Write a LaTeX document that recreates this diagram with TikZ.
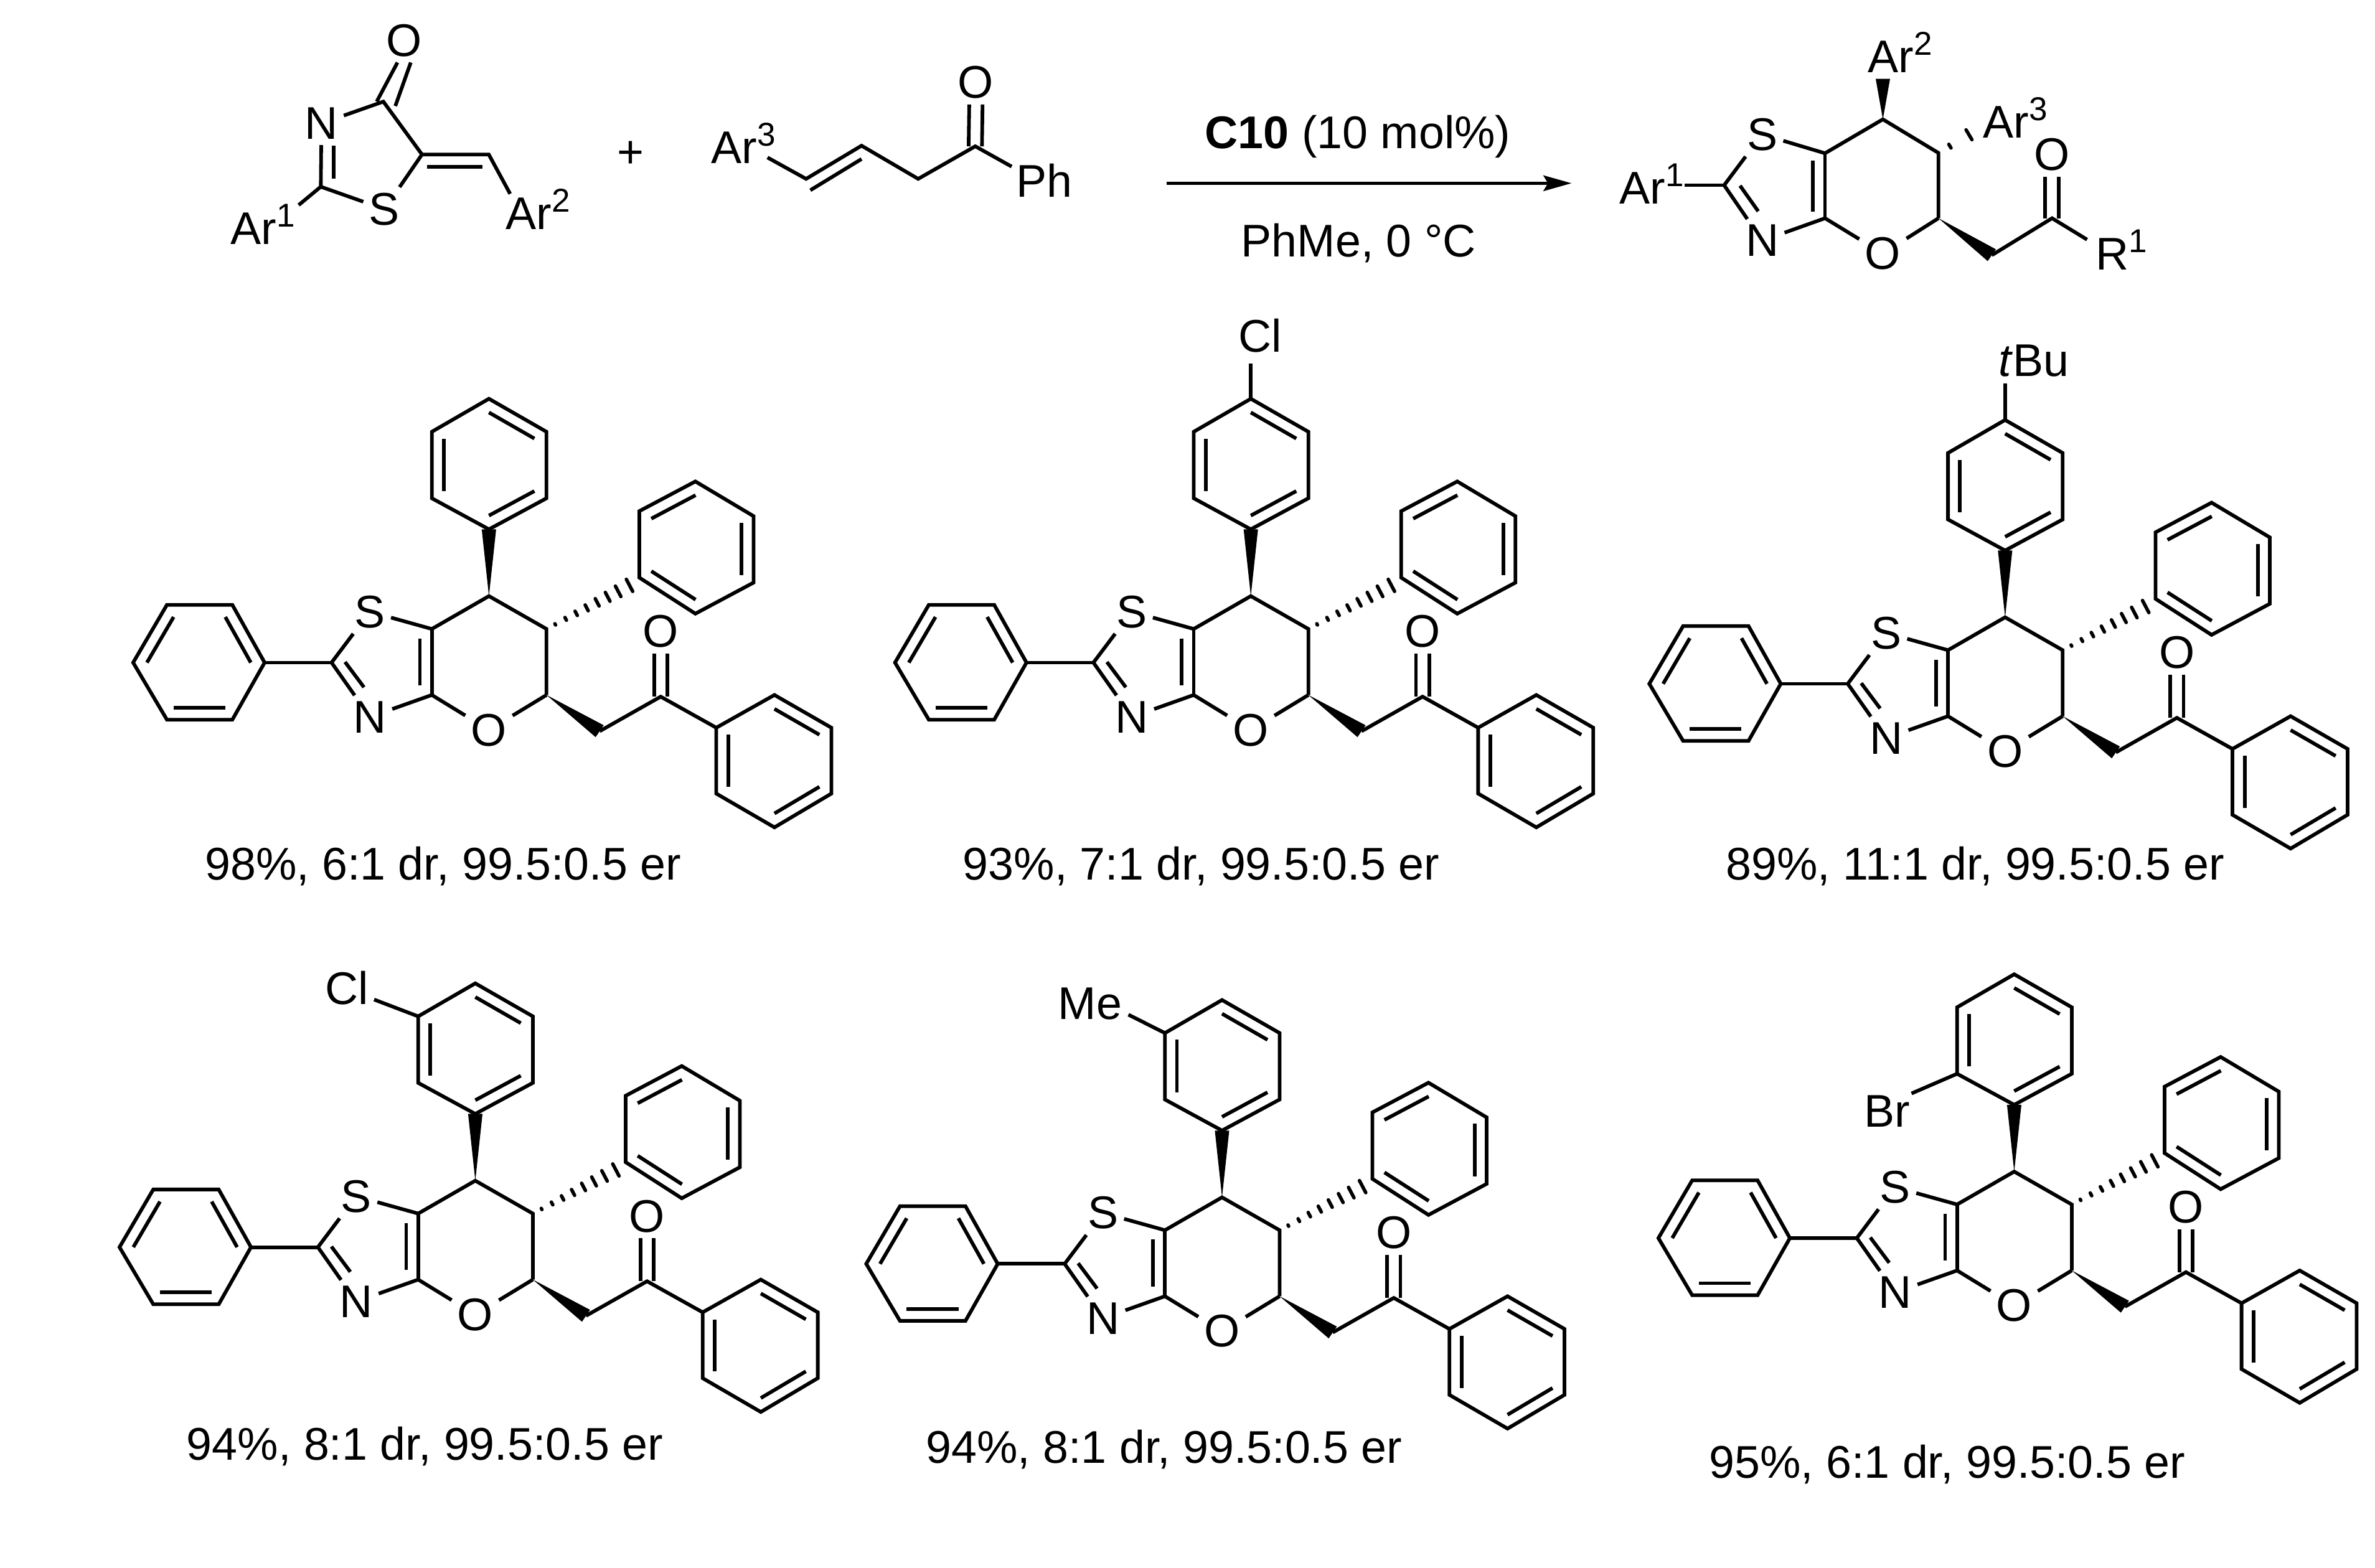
\documentclass[tikz,border=0pt]{standalone}
\usepackage{fontspec}
\setmainfont{Liberation Sans}
\usetikzlibrary{calc,arrows.meta}
\newcommand{\Sup}[1]{\raisebox{.38em}{\fontsize{6.2}{6.2}\selectfont #1}}
\tikzset{
  bond/.style={line width=0.68pt,line join=miter,line cap=butt},
  hashline/.style={line width=0.65pt,line cap=round},
  atom/.style={inner sep=0.9pt,font=\fontsize{8.6}{10}\selectfont},
  lab/.style={inner sep=0pt,anchor=base west,font=\fontsize{8.6}{10}\selectfont},
  captext/.style={inner sep=0pt,anchor=base,font=\fontsize{8.6}{10}\selectfont}
}
% benzene ring: six corners, inner lines on edges 1-2, 3-4, 5-6
\newcommand{\benzene}[6]{%
  \draw[bond] (#1)--(#2)--(#3)--(#4)--(#5)--(#6)--cycle;
  \draw[bond] ($($(#1)!.5!(#4)$)!.79!(#1)$) -- ($($(#1)!.5!(#4)$)!.79!(#2)$);
  \draw[bond] ($($(#1)!.5!(#4)$)!.79!(#3)$) -- ($($(#1)!.5!(#4)$)!.79!(#4)$);
  \draw[bond] ($($(#1)!.5!(#4)$)!.79!(#5)$) -- ($($(#1)!.5!(#4)$)!.79!(#6)$);
}
\newcommand{\wedgebond}[2]{%
  \fill (#1) -- ($(#2)!1.35pt!90:(#1)$) -- ($(#2)!1.35pt!-90:(#1)$) -- cycle;
}
% #1 from, #2 to, #3 list of positions along the bond
\newcommand{\hashbond}[3]{%
  \foreach \t in {#3}{%
    \pgfmathsetmacro{\w}{1.35*\t}
    \coordinate (hp) at ($(#1)!\t!(#2)$);
    \draw[hashline] ($(hp)!\w pt!90:(#2)$) -- ($(hp)!\w pt!-90:(#2)$);
  }%
}
% #1 prefix, #2 dx, #3 dy, #4 extra (substituent on the upper ring)
\newcommand{\productmol}[4]{%
\begin{scope}[shift={(#2,#3)}]
  \coordinate (#1C7) at (322.8,393.6);
  \coordinate (#1C6) at (360.8,415.3);
  \coordinate (#1C5) at (360.8,458.9);
  \coordinate (#1Ca) at (285.1,458.9);
  \coordinate (#1Cb) at (285.1,415.3);
  \coordinate (#1C2) at (218.9,437.5);
  \coordinate (#1CH) at (395.9,482.8);
  \coordinate (#1CC) at (436.2,460);
  \node[atom] (#1S) at (244.2,403.9) {S};
  \node[atom] (#1N) at (244.2,473.4) {N};
  \node[atom] (#1O) at (322.8,482) {O};
  \node[atom] (#1K) at (436.2,417) {O};
  % upper phenyl
  \coordinate (#1t1) at (322.8,263.3);
  \coordinate (#1t2) at (360.8,285.1);
  \coordinate (#1t3) at (360.8,329);
  \coordinate (#1t4) at (322.8,349.5);
  \coordinate (#1t5) at (285.1,329);
  \coordinate (#1t6) at (285.1,285.1);
  \benzene{#1t1}{#1t2}{#1t3}{#1t4}{#1t5}{#1t6}
  % left phenyl
  \coordinate (#1l1) at (174.7,437.5);
  \coordinate (#1l2) at (153.4,399.4);
  \coordinate (#1l3) at (110.2,399.4);
  \coordinate (#1l4) at (87.9,437.5);
  \coordinate (#1l5) at (110.2,475.2);
  \coordinate (#1l6) at (153.4,475.2);
  \benzene{#1l1}{#1l2}{#1l3}{#1l4}{#1l5}{#1l6}
  % right upper phenyl
  \coordinate (#1r1) at (422.1,337.5);
  \coordinate (#1r2) at (459.1,317.9);
  \coordinate (#1r3) at (497.5,340.8);
  \coordinate (#1r4) at (497.5,384.7);
  \coordinate (#1r5) at (459.1,405.2);
  \coordinate (#1r6) at (422.1,381.4);
  \benzene{#1r1}{#1r2}{#1r3}{#1r4}{#1r5}{#1r6}
  % ketone phenyl
  \coordinate (#1k1) at (511.3,458.9);
  \coordinate (#1k2) at (548.9,480.5);
  \coordinate (#1k3) at (548.9,524);
  \coordinate (#1k4) at (511.3,546.3);
  \coordinate (#1k5) at (472.9,524);
  \coordinate (#1k6) at (472.9,480.5);
  \benzene{#1k1}{#1k2}{#1k3}{#1k4}{#1k5}{#1k6}
  % core bonds
  \draw[bond] (#1C2) -- (#1l1);
  \draw[bond] (#1C2) -- (#1S);
  \draw[bond] (#1S) -- (#1Cb);
  \draw[bond] (#1Cb) -- (#1C7) -- (#1C6) -- (#1C5);
  \draw[bond] (#1Cb) -- (#1Ca);
  \draw[bond] (#1Ca) -- (#1N);
  \draw[bond] (#1N) -- (#1C2);
  \draw[bond] (#1Ca) -- (#1O);
  \draw[bond] (#1O) -- (#1C5);
  \coordinate (#1i1) at (277.2,421.5);
  \coordinate (#1i2) at (277.2,452.5);
  \draw[bond] (#1i1) -- (#1i2);
  \coordinate (#1i3) at (227.8,437.1);
  \coordinate (#1i4) at (240.3,453.8);
  \draw[bond] (#1i3) -- (#1i4);
  \draw[bond] (#1CH) -- (#1CC) -- (#1k6);
  \draw[bond] ([xshift=-1.25pt]#1K.south) -- ([xshift=-1.25pt]#1CC);
  \draw[bond] ([xshift=1.25pt]#1K.south) -- ([xshift=1.25pt]#1CC);
  \wedgebond{#1C7}{#1t4}
  \wedgebond{#1C5}{#1CH}
  \coordinate (#1he) at (418.5,385);
  \hashbond{#1C6}{#1he}{.1,.22,.34,.46,.58,.7,.82,.95}
  #4
\end{scope}}
\begin{document}
\begin{tikzpicture}[x=0.01cm,y=-0.01cm]
\useasboundingbox (0,0) rectangle (1568,1035.3);
\fill[white] (0,0) rectangle (1568,1035.3);
% --- reactant 1
\node[atom] (aO) at (266.8,26.7) {O};
\node[atom] (aN) at (212.2,81.5) {N};
\node[atom] (aS) at (253.8,138.1) {S};
\coordinate (aC4) at (253.1,67.1);
\coordinate (aC5) at (278.6,102);
\coordinate (aCH) at (322.7,102);
\coordinate (aC2) at (211.8,123.3);
\coordinate (aA1) at (197.2,135.4);
\coordinate (aA2) at (336.8,128);
\node[lab] (aAr1) at (151.6,161.4) {Ar\Sup{1}};
\node[lab] (aAr2) at (333.4,151.4) {Ar\Sup{2}};
\draw[bond] (aN) -- (aC4) -- (aC5) -- (aS) -- (aC2) -- (aN);
\coordinate (aN2) at (220.2,96);
\coordinate (aN3) at (220.2,118);
\draw[bond] (aN2) -- (aN3);
\draw[bond] (aC2) -- (aA1);
\draw[bond] (aC5) -- (aCH) -- (aA2);
\coordinate (aD1) at (281.8,110);
\coordinate (aD2) at (318.7,110);
\draw[bond] (aD1) -- (aD2);
\coordinate (aC4b) at (256.6,70);
\draw[bond] ([xshift=-1.25pt]aO.south) -- ([xshift=-1.25pt]aC4);
\draw[bond] ([xshift=1.25pt]aO.south) -- ([xshift=1.25pt]aC4b);
% plus
\node[atom] (plus) at (416.2,102) {+};
% --- reactant 2
\node[lab] (bAr3) at (469,108) {Ar\Sup{3}};
\node[atom] (bO) at (644.3,54.4) {O};
\node[lab,anchor=base] (bPh) at (689.5,129.9) {Ph};
\coordinate (b1) at (506.7,104);
\coordinate (b2) at (532.2,118.1);
\coordinate (b3) at (568.8,96.2);
\coordinate (b4) at (606.2,118.1);
\coordinate (b5) at (643.9,96.6);
\coordinate (b6) at (667.9,110);
\draw[bond] (b1) -- (b2) -- (b3) -- (b4) -- (b5) -- (b6);
\coordinate (b7) at (535,125.6);
\coordinate (b8) at (568.8,105);
\draw[bond] (b7) -- (b8);
\draw[bond] ([xshift=-1.25pt]bO.south) -- ([xshift=-1.25pt]b5);
\draw[bond] ([xshift=1.25pt]bO.south) -- ([xshift=1.25pt]b5);
% --- arrow
\coordinate (arrA) at (770.2,121);
\coordinate (arrB) at (1037.5,121);
\draw[line width=0.6pt,-{Stealth[length=0.185cm,width=0.103cm,inset=0.03cm]}] (arrA) -- (arrB);
\node[captext] (cond1) at (896.5,98) {\textbf{C10} (10 mol\%)};
\node[captext] (cond2) at (897,169.6) {PhMe, 0 °C};
% --- general product
\coordinate (pC7) at (1243.1,78.8);
\coordinate (pW) at (1243.1,52);
\coordinate (pC6) at (1279.8,101);
\coordinate (pC5) at (1279.8,144.1);
\coordinate (pCa) at (1204.9,144.1);
\coordinate (pCb) at (1204.9,101.2);
\coordinate (pC2) at (1138.3,122.3);
\coordinate (pAe) at (1112,122.3);
\coordinate (pCH) at (1315,168.5);
\coordinate (pCC) at (1354.8,144.1);
\coordinate (pRe) at (1377.9,158.2);
\coordinate (pHe) at (1305,86);
\node[atom] (pS) at (1163.4,88.8) {S};
\node[atom] (pN) at (1163.4,158.9) {N};
\node[atom] (pO) at (1243.1,167.4) {O};
\node[atom] (pK) at (1354.8,102) {O};
\node[lab] (pAr1) at (1068.5,134.5) {Ar\Sup{1}};
\node[lab] (pAr2) at (1232.6,48) {Ar\Sup{2}};
\node[lab] (pAr3) at (1308.7,91.1) {Ar\Sup{3}};
\node[lab] (pR1) at (1383,178) {R\Sup{1}};
\draw[bond] (pAe) -- (pC2);
\draw[bond] (pC2) -- (pS);
\draw[bond] (pS) -- (pCb);
\draw[bond] (pCb) -- (pC7) -- (pC6) -- (pC5);
\draw[bond] (pCb) -- (pCa);
\draw[bond] (pCa) -- (pN);
\draw[bond] (pN) -- (pC2);
\draw[bond] (pCa) -- (pO);
\draw[bond] (pO) -- (pC5);
\coordinate (pi1) at (1197,106);
\coordinate (pi2) at (1197,139.7);
\draw[bond] (pi1) -- (pi2);
\coordinate (pi3) at (1148.8,122.6);
\coordinate (pi4) at (1160.8,139.5);
\draw[bond] (pi3) -- (pi4);
\draw[bond] (pCH) -- (pCC) -- (pRe);
\draw[bond] ([xshift=-1.3pt]pK.south) -- ([xshift=-1.3pt]pCC);
\draw[bond] ([xshift=1.3pt]pK.south) -- ([xshift=1.3pt]pCC);
\wedgebond{pC7}{pW}
\wedgebond{pC5}{pCH}
\hashbond{pC6}{pHe}{.3,.8}
% --- six products
\productmol{m}{0}{0}{}
\node[captext] (capm) at (292.5,581) {98\%, 6:1 dr, 99.5:0.5 er};
\productmol{n}{503}{0}{%
  \node[lab] (nCl) at (314,232.5) {Cl};
  \coordinate (nb) at (322.8,240);
  \draw[bond] (nt1) -- (nb);}
\node[captext] (capn) at (793,581) {93\%, 7:1 dr, 99.5:0.5 er};
\productmol{o}{1001}{14}{%
  \node[lab] (oBu) at (318,234.5) {\textit{t}Bu};
  \coordinate (ob) at (322.8,239);
  \draw[bond] (ot1) -- (ob);}
\node[captext] (capo) at (1304,581) {89\%, 11:1 dr, 99.5:0.5 er};
\productmol{q}{-9}{386}{%
  \node[lab] (qCl) at (223,277) {Cl};
  \coordinate (qb) at (256,274);
  \draw[bond] (qt6) -- (qb);}
\node[captext] (capq) at (280.5,964) {94\%, 8:1 dr, 99.5:0.5 er};
\productmol{u}{484}{397}{%
  \node[lab] (uMe) at (214,276) {Me};
  \coordinate (ub) at (261,273);
  \draw[bond] (ut6) -- (ub);}
\node[captext] (capu) at (768.5,966) {94\%, 8:1 dr, 99.5:0.5 er};
\productmol{v}{1007}{380}{%
  \node[lab] (vBr) at (223,364) {Br};
  \coordinate (vb) at (255,342);
  \draw[bond] (vt5) -- (vb);}
\node[captext] (capv) at (1285.5,976) {95\%, 6:1 dr, 99.5:0.5 er};
\end{tikzpicture}
\end{document}
